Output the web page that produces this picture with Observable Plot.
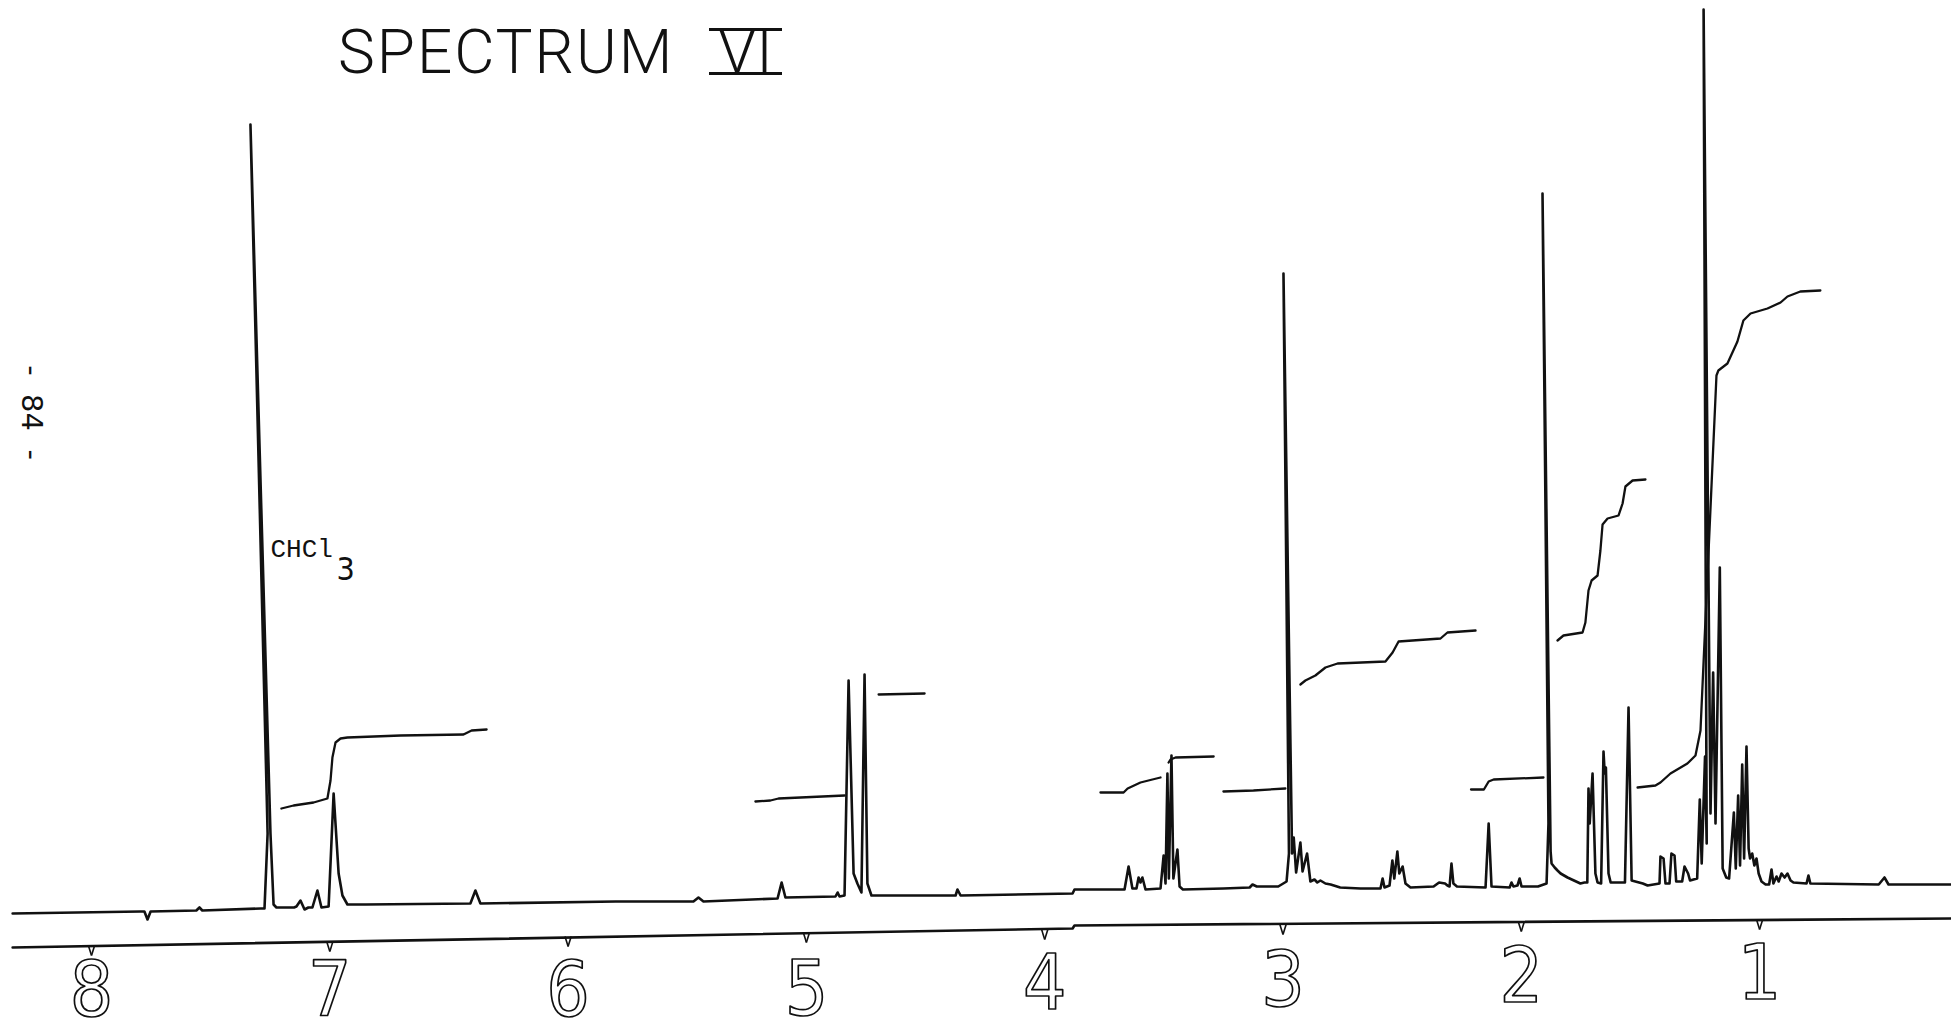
<!DOCTYPE html>
<html>
<head>
<meta charset="utf-8">
<script src="https://cdn.jsdelivr.net/npm/d3@7"></script>
<script src="https://cdn.jsdelivr.net/npm/@observablehq/plot@0.6"></script>
<style>
  html, body { margin: 0; padding: 0; background: #fff; overflow: hidden; }
  #wrap { position: relative; width: 1951px; height: 1033px; overflow: hidden; background: #fff; }
  #wrap svg { position: absolute; left: 0; top: 0; }
  .ttl { position: absolute; font-family: Roboto, "Open Sans", "DejaVu Sans", sans-serif; font-weight: 300;
         font-size: 62px; line-height: 62px; white-space: nowrap; color: #111; }
  #t1 { left: 338px; top: 21px; letter-spacing: 2px; }
  #t2 { left: 709px; top: 20px; }
  #t2 span { display: inline-block; line-height: 41px; height: 41px; padding: 0 9px;
             border-top: 3px solid #111; border-bottom: 3px solid #111; vertical-align: top; margin-top: 8px; }
</style>
</head>
<body>
<div id="wrap">
  <div class="ttl" id="t1">SPECTRUM</div>
  <div class="ttl" id="t2"><span>VI</span></div>
</div>
<script>
// ---------- data (ppm, intensity) ----------
const spectrumTrace = [
  [8.331, 0], [7.794, 2], [7.778, 2], [7.765, -6], [7.752, 2],
  [7.560, 3], [7.547, 6], [7.535, 3],
  [7.290, 5], [7.274, 5], [7.261, 80], [7.333, 789], [7.249, 80], [7.236, 9], [7.224, 6],
  [7.150, 6], [7.140, 7], [7.123, 13], [7.106, 4], [7.090, 6],
  [7.073, 6], [7.052, 23], [7.035, 6],
  [7.005, 7], [6.984, 120], [6.963, 40], [6.947, 18], [6.926, 9],
  [6.850, 9], [6.410, 10], [6.389, 23], [6.368, 10],
  [5.800, 12], [5.474, 12], [5.453, 16], [5.432, 12],
  [5.121, 15], [5.104, 31], [5.088, 16],
  [4.878, 17], [4.869, 21], [4.861, 17],
  [4.840, 18], [4.823, 233], [4.802, 40], [4.786, 30], [4.769, 21], [4.756, 239], [4.744, 30], [4.727, 18],
  [4.374, 18], [4.366, 24], [4.353, 18],
  [3.883, 20], [3.875, 24],
  [3.665, 24], [3.648, 47], [3.632, 25],
  [3.615, 25], [3.606, 36], [3.598, 31], [3.590, 36], [3.577, 24],
  [3.514, 25], [3.501, 58], [3.493, 30], [3.485, 140], [3.479, 35], [3.468, 158], [3.460, 35], [3.443, 64], [3.434, 27], [3.420, 24],
  [3.250, 25], [3.140, 26], [3.128, 29], [3.110, 27],
  [3.020, 27], [2.985, 32], [2.975, 60], [2.998, 640], [2.962, 60], [2.955, 76], [2.945, 41], [2.927, 71],
  [2.918, 42], [2.899, 60], [2.885, 32], [2.868, 34], [2.856, 31], [2.843, 33], [2.822, 30], [2.800, 29], [2.760, 26],
  [2.675, 25], [2.591, 25], [2.582, 35], [2.574, 26],
  [2.553, 28], [2.541, 53], [2.533, 35], [2.520, 62], [2.512, 40], [2.498, 47], [2.486, 30], [2.465, 26],
  [2.368, 27], [2.345, 31], [2.320, 30], [2.310, 28],
  [2.301, 27], [2.293, 50], [2.285, 30], [2.270, 27],
  [2.150, 26], [2.137, 90], [2.125, 27],
  [2.049, 26], [2.041, 31], [2.033, 27], [2.016, 28], [2.007, 35], [1.999, 27],
  [1.930, 27], [1.894, 30], [1.886, 90], [1.911, 720], [1.877, 62], [1.873, 50], [1.860, 46], [1.848, 43],
  [1.835, 40], [1.806, 36], [1.752, 30],
  [1.735, 31], [1.723, 31], [1.718, 125], [1.713, 90], [1.701, 140], [1.689, 40], [1.680, 31],
  [1.665, 30], [1.655, 162], [1.650, 140], [1.645, 146], [1.634, 40], [1.625, 31],
  [1.565, 31], [1.550, 206], [1.537, 33],
  [1.490, 30], [1.470, 28],
  [1.420, 30], [1.416, 57], [1.403, 55], [1.395, 30],
  [1.378, 30], [1.370, 60], [1.357, 58], [1.350, 32],
  [1.325, 32], [1.315, 47], [1.300, 40], [1.292, 33],
  [1.262, 35], [1.251, 114], [1.243, 50], [1.229, 157], [1.222, 70], [1.235, 904], [1.206, 100],
  [1.195, 241], [1.185, 90], [1.167, 346], [1.155, 45], [1.140, 36],
  [1.128, 35], [1.108, 101], [1.100, 45], [1.090, 118], [1.082, 48], [1.073, 149], [1.065, 55],
  [1.055, 167], [1.046, 65], [1.040, 55], [1.031, 60], [1.022, 48], [1.013, 55], [1.004, 40], [0.992, 32], [0.975, 29],
  [0.960, 29], [0.950, 44], [0.942, 30], [0.929, 37], [0.920, 32], [0.908, 40], [0.895, 36], [0.883, 40],
  [0.870, 33], [0.858, 31], [0.803, 30], [0.795, 38], [0.787, 30],
  [0.500, 29], [0.476, 36], [0.459, 29], [0.195, 29]
];

// integration traces
const integralAromatic = [[7.203,105],[7.152,108],[7.068,111],[7.010,115],[6.997,133],[6.989,156],[6.976,171],[6.955,175],[6.926,176],[6.703,178],[6.439,179],[6.422,181],[6.405,183],[6.342,184]];
const integralOlefinicA = [[5.214,112],[5.151,113],[5.117,115],[4.840,118]];
const integralOlefinicB = [[4.697,219],[4.504,220]];
const integral35A = [[3.766,121],[3.669,121],[3.652,125],[3.598,131],[3.548,134],[3.514,136]];
const integral35B = [[3.480,151],[3.472,154],[3.451,156],[3.291,157]];
const integral29A = [[3.250,122],[3.124,123],[2.990,125]];
const integral29B = [[2.927,229],[2.906,233],[2.864,238],[2.822,246],[2.771,250],[2.570,252],[2.540,261],[2.515,272],[2.339,275],[2.310,281],[2.192,283]];
const integral21 = [[2.211,124],[2.157,124],[2.137,132],[2.116,134],[1.907,136]];
const integral17 = [[1.848,273],[1.823,278],[1.743,281],[1.731,291],[1.718,323],[1.705,333],[1.680,338],[1.668,363],[1.659,389],[1.638,395],[1.592,398],[1.575,410],[1.563,427],[1.533,433],[1.479,434]];
const integral12 = [[1.512,126],[1.437,128],[1.416,131],[1.374,140],[1.303,150],[1.269,158],[1.248,183],[1.181,538],[1.173,543],[1.135,550],[1.093,572],[1.068,593],[1.038,600],[0.967,605],[0.912,611],[0.883,617],[0.829,622],[0.745,623]];

// chart-paper axis (slightly tilted in the scan)
const axisLine = [[8.331,-34],[3.883,-15],[3.875,-12],[0.195,-5]];
const tickPositions = [8, 7, 6, 5, 4, 3, 2, 1];
const tickAxisLevel = [-32, -28, -23, -19, -16, -11, -8, -6];
const tickLabels = ["8", "7", "6", "5", "4", "3", "2", "1"];
const tickLabelBase = [-102, -102, -102, -101, -95, -92, -88, -85];

const solventLabel = [{ppm: 7.249, v: 357, text: "CHCl"}];
const solventSub = [{ppm: 6.972, v: 334, text: "3"}];
const pageNumber = [{ppm: 8.252, v: 501, text: "-\u00a0\u00a084\u00a0\u00a0-"}];

// ---------- tables for Plot ----------
const integralSegments = [integralAromatic, integralOlefinicA, integralOlefinicB, integral35A, integral35B,
  integral29A, integral29B, integral21, integral17, integral12];
const integralRows = integralSegments.flatMap((seg, i) => seg.map(([ppm, v]) => ({seg: i, ppm, v})));
const tickRows = tickPositions.map((ppm, i) => ({ppm, level: tickAxisLevel[i], label: tickLabels[i], base: tickLabelBase[i]}));

const ink = "#111";
const chart = Plot.plot({
  width: 1951,
  height: 1033,
  margin: 0,
  x: {domain: [8.3819, 0.1947], range: [0, 1951], axis: null},
  y: {domain: [-120, 913], range: [1033, 0], axis: null},
  style: {background: "transparent", overflow: "visible"},
  marks: [
    Plot.line(axisLine, {x: d => d[0], y: d => d[1], stroke: ink, strokeWidth: 2.6}),
    Plot.link(tickRows, {x1: d => d.ppm + 0.013, x2: "ppm", y1: "level", y2: d => d.level - 10, stroke: ink, strokeWidth: 1.6}),
    Plot.link(tickRows, {x1: d => d.ppm - 0.013, x2: "ppm", y1: "level", y2: d => d.level - 10, stroke: ink, strokeWidth: 1.6}),
    Plot.line(spectrumTrace, {x: d => d[0], y: d => d[1], stroke: ink, strokeWidth: 2.6, strokeLinejoin: "round"}),
    Plot.line(integralRows, {x: "ppm", y: "v", z: "seg", stroke: ink, strokeWidth: 2.3}),
    Plot.text(tickRows, {x: "ppm", y: "base", text: "label", fontSize: 76,
      fontFamily: "'Liberation Sans Narrow', 'DejaVu Sans Condensed', 'DejaVu Sans', sans-serif",
      fill: "white", stroke: ink, strokeWidth: 1.7, paintOrder: "fill", lineAnchor: "bottom", textAnchor: "middle"}),
    Plot.text(solventLabel, {x: "ppm", y: "v", text: "text", fontSize: 26, fontFamily: "Liberation Mono",
      fill: ink, textAnchor: "start", lineAnchor: "bottom"}),
    Plot.text(solventSub, {x: "ppm", y: "v", text: "text", fontSize: 32, fontFamily: "'DejaVu Sans Condensed', 'DejaVu Sans', sans-serif",
      fill: ink, textAnchor: "start", lineAnchor: "bottom"}),
    Plot.text(pageNumber, {x: "ppm", y: "v", text: "text", fontSize: 29, fontFamily: "DejaVu Sans",
      fill: ink, rotate: 90, textAnchor: "middle", lineAnchor: "middle"})
  ]
});
document.getElementById("wrap").prepend(chart);
</script>
</body>
</html>
